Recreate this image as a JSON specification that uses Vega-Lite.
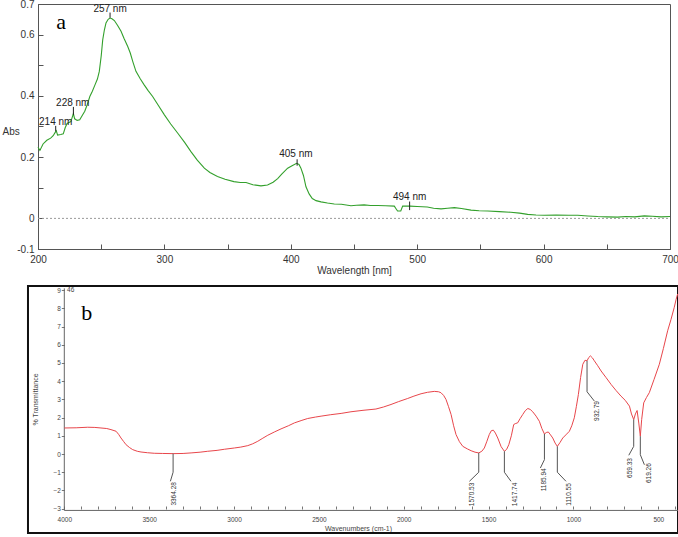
{
  "$schema": "https://vega.github.io/schema/vega-lite/v6.json",
  "padding": {"left": 1, "top": -2, "right": 0, "bottom": 0},
  "background": "white",
  "spacing": 9,
  "config": {"font": "Liberation Sans", "axis": {"grid": false}},
  "datasets": {
    "uv": [
      {"x":200,"y":0.232},{"x":201.5,"y":0.222},{"x":204,"y":0.243},{"x":207,"y":0.255},{"x":210,"y":0.262},{"x":212,"y":0.27},{"x":213.5,"y":0.28},{"x":214.5,"y":0.286},{"x":215.5,"y":0.272},{"x":218,"y":0.274},{"x":220,"y":0.276},{"x":221.5,"y":0.296},{"x":223,"y":0.31},{"x":226,"y":0.316},{"x":228,"y":0.342},{"x":229,"y":0.325},{"x":231,"y":0.32},{"x":233,"y":0.322},{"x":235,"y":0.336},{"x":237,"y":0.35},{"x":239,"y":0.372},{"x":241,"y":0.398},{"x":243,"y":0.415},{"x":245,"y":0.435},{"x":247,"y":0.455},{"x":248.5,"y":0.48},{"x":250,"y":0.53},{"x":251.2,"y":0.583},{"x":252.5,"y":0.615},{"x":253.8,"y":0.638},{"x":255.5,"y":0.65},{"x":257,"y":0.654},{"x":258.5,"y":0.652},{"x":260.4,"y":0.646},{"x":263,"y":0.63},{"x":265.7,"y":0.611},{"x":268,"y":0.588},{"x":271,"y":0.561},{"x":273,"y":0.54},{"x":275,"y":0.512},{"x":277.5,"y":0.48},{"x":281,"y":0.455},{"x":284,"y":0.436},{"x":287,"y":0.418},{"x":290.7,"y":0.398},{"x":295,"y":0.37},{"x":300,"y":0.338},{"x":305,"y":0.308},{"x":310.6,"y":0.278},{"x":316,"y":0.248},{"x":321,"y":0.218},{"x":326,"y":0.19},{"x":331.6,"y":0.164},{"x":336,"y":0.15},{"x":342,"y":0.137},{"x":348,"y":0.128},{"x":355,"y":0.12},{"x":360,"y":0.117},{"x":364.6,"y":0.117},{"x":370,"y":0.11},{"x":376.4,"y":0.106},{"x":381.6,"y":0.109},{"x":386,"y":0.118},{"x":389.6,"y":0.13},{"x":393,"y":0.145},{"x":397.5,"y":0.164},{"x":401,"y":0.172},{"x":404.6,"y":0.18},{"x":406.5,"y":0.176},{"x":408,"y":0.164},{"x":410,"y":0.14},{"x":412,"y":0.103},{"x":414.5,"y":0.08},{"x":417,"y":0.065},{"x":420,"y":0.058},{"x":423.9,"y":0.054},{"x":429,"y":0.05},{"x":434.4,"y":0.047},{"x":440,"y":0.046},{"x":447.6,"y":0.041},{"x":452,"y":0.043},{"x":458,"y":0.044},{"x":463,"y":0.042},{"x":468.8,"y":0.042},{"x":475,"y":0.041},{"x":481.9,"y":0.04},{"x":483.5,"y":0.03},{"x":484.5,"y":0.024},{"x":487,"y":0.024},{"x":488.5,"y":0.04},{"x":494.3,"y":0.04},{"x":500,"y":0.039},{"x":508,"y":0.037},{"x":513,"y":0.033},{"x":518.9,"y":0.031},{"x":524,"y":0.033},{"x":529.4,"y":0.035},{"x":535,"y":0.032},{"x":542.6,"y":0.027},{"x":549,"y":0.025},{"x":555.8,"y":0.024},{"x":565,"y":0.022},{"x":574,"y":0.02},{"x":581,"y":0.017},{"x":587.4,"y":0.013},{"x":594,"y":0.011},{"x":600.6,"y":0.01},{"x":610,"y":0.011},{"x":620,"y":0.01},{"x":627,"y":0.01},{"x":635,"y":0.008},{"x":642.8,"y":0.006},{"x":650,"y":0.005},{"x":658.6,"y":0.004},{"x":665,"y":0.006},{"x":672,"y":0.005},{"x":679.7,"y":0.008},{"x":686,"y":0.007},{"x":693,"y":0.005},{"x":700,"y":0.006}
    ],
    "uvTick": [
      {"x":214,"y":0.302,"y2":0.284},{"x":228,"y":0.364,"y2":0.338},{"x":257,"y":0.672,"y2":0.655},{"x":405,"y":0.193,"y2":0.172},{"x":494,"y":0.055,"y2":0.027}
    ],
    "uvText": [
      {"x":214,"y":0.315,"label":"214 nm"},{"x":227.5,"y":0.378,"label":"228 nm"},{"x":257,"y":0.684,"label":"257 nm"},{"x":404,"y":0.211,"label":"405 nm"},{"x":494,"y":0.071,"label":"494 nm"}
    ],
    "ir": [
      {"x":4000,"y":1.43},{"x":3930,"y":1.44},{"x":3862,"y":1.47},{"x":3820,"y":1.46},{"x":3784,"y":1.43},{"x":3750,"y":1.4},{"x":3725,"y":1.34},{"x":3695,"y":1.25},{"x":3680,"y":1.08},{"x":3666,"y":0.88},{"x":3650,"y":0.68},{"x":3636,"y":0.51},{"x":3615,"y":0.35},{"x":3597,"y":0.24},{"x":3570,"y":0.15},{"x":3548,"y":0.11},{"x":3510,"y":0.07},{"x":3470,"y":0.04},{"x":3420,"y":0.03},{"x":3359,"y":0.02},{"x":3300,"y":0.03},{"x":3253,"y":0.06},{"x":3200,"y":0.1},{"x":3155,"y":0.15},{"x":3100,"y":0.2},{"x":3057,"y":0.26},{"x":2998,"y":0.33},{"x":2960,"y":0.38},{"x":2919,"y":0.46},{"x":2890,"y":0.56},{"x":2860,"y":0.7},{"x":2830,"y":0.87},{"x":2801,"y":1.03},{"x":2760,"y":1.22},{"x":2723,"y":1.38},{"x":2680,"y":1.55},{"x":2644,"y":1.71},{"x":2600,"y":1.85},{"x":2566,"y":1.95},{"x":2520,"y":2.03},{"x":2487,"y":2.08},{"x":2430,"y":2.16},{"x":2369,"y":2.23},{"x":2311,"y":2.32},{"x":2240,"y":2.4},{"x":2164,"y":2.47},{"x":2120,"y":2.58},{"x":2075,"y":2.72},{"x":2030,"y":2.88},{"x":1977,"y":3.05},{"x":1940,"y":3.18},{"x":1898,"y":3.31},{"x":1860,"y":3.39},{"x":1820,"y":3.44},{"x":1795,"y":3.42},{"x":1781,"y":3.37},{"x":1765,"y":3.22},{"x":1751,"y":3.0},{"x":1736,"y":2.6},{"x":1721,"y":2.17},{"x":1706,"y":1.55},{"x":1692,"y":1.07},{"x":1672,"y":0.68},{"x":1652,"y":0.42},{"x":1625,"y":0.28},{"x":1603,"y":0.18},{"x":1580,"y":0.1},{"x":1558,"y":0.06},{"x":1540,"y":0.15},{"x":1525,"y":0.33},{"x":1510,"y":0.7},{"x":1496,"y":1.07},{"x":1484,"y":1.28},{"x":1472,"y":1.31},{"x":1460,"y":1.15},{"x":1446,"y":0.88},{"x":1426,"y":0.4},{"x":1407,"y":0.15},{"x":1394,"y":0.25},{"x":1381,"y":0.51},{"x":1366,"y":1.0},{"x":1352,"y":1.62},{"x":1340,"y":1.68},{"x":1329,"y":1.71},{"x":1314,"y":1.95},{"x":1299,"y":2.17},{"x":1284,"y":2.38},{"x":1269,"y":2.5},{"x":1255,"y":2.45},{"x":1240,"y":2.32},{"x":1220,"y":2.08},{"x":1201,"y":1.8},{"x":1186,"y":1.4},{"x":1171,"y":1.1},{"x":1160,"y":1.18},{"x":1148,"y":1.21},{"x":1135,"y":1.05},{"x":1122,"y":0.88},{"x":1108,"y":0.6},{"x":1095,"y":0.42},{"x":1080,"y":0.62},{"x":1063,"y":0.88},{"x":1045,"y":1.05},{"x":1024,"y":1.25},{"x":1010,"y":1.55},{"x":995,"y":1.99},{"x":983,"y":2.6},{"x":971,"y":3.27},{"x":958,"y":4.2},{"x":945,"y":4.93},{"x":932,"y":5.15},{"x":920,"y":5.12},{"x":910,"y":5.3},{"x":900,"y":5.39},{"x":888,"y":5.28},{"x":877,"y":5.12},{"x":857,"y":4.85},{"x":837,"y":4.56},{"x":808,"y":4.2},{"x":778,"y":3.82},{"x":750,"y":3.5},{"x":720,"y":3.18},{"x":695,"y":2.95},{"x":670,"y":2.63},{"x":658,"y":2.2},{"x":645,"y":1.89},{"x":635,"y":2.2},{"x":625,"y":2.39},{"x":615,"y":1.7},{"x":606,"y":0.98},{"x":598,"y":1.9},{"x":586,"y":2.81},{"x":570,"y":3.1},{"x":553,"y":3.37},{"x":525,"y":4.1},{"x":494,"y":4.93},{"x":470,"y":5.8},{"x":445,"y":6.77},{"x":425,"y":7.4},{"x":406,"y":8.06},{"x":395,"y":8.5},{"x":386,"y":8.79}
    ],
    "irLead": [
      {"x":3359,"x2":3359,"y":0.02,"y2":-1.0},{"x":3359,"x2":3375,"y":-1.0,"y2":-1.5},
      {"x":1558,"x2":1558,"y":0.06,"y2":-1.0},{"x":1558,"x2":1613,"y":-1.0,"y2":-1.5},
      {"x":1407,"x2":1407,"y":0.15,"y2":-1.0},{"x":1407,"x2":1368,"y":-1.0,"y2":-1.5},
      {"x":1171,"x2":1171,"y":1.1,"y2":-0.31},{"x":1171,"x2":1195,"y":-0.31,"y2":-0.77},
      {"x":1095,"x2":1095,"y":0.42,"y2":-1.0},{"x":1095,"x2":1044,"y":-1.0,"y2":-1.5},
      {"x":920,"x2":920,"y":5.12,"y2":3.42},{"x":920,"x2":877,"y":3.42,"y2":2.91},
      {"x":645,"x2":645,"y":1.89,"y2":0.42},{"x":645,"x2":674,"y":0.42,"y2":-0.07},
      {"x":606,"x2":606,"y":0.98,"y2":-0.04},{"x":606,"x2":582,"y":-0.04,"y2":-0.59}
    ],
    "irText": [
      {"x":3354,"y":-2.19,"label":"3364.28"},{"x":1595,"y":-2.22,"label":"1570.53"},{"x":1342,"y":-2.22,"label":"1417.74"},{"x":1175,"y":-1.42,"label":"1185.94"},{"x":1024,"y":-2.22,"label":"1110.55"},{"x":861,"y":2.36,"label":"932.79"},{"x":664,"y":-0.77,"label":"659.33"},{"x":553,"y":-1.05,"label":"619.26"}
    ]
  },
  "vconcat": [
    {
      "width": 632,
      "height": 245,
      "view": {"stroke": "#555", "strokeWidth": 1},
      "encoding": {
        "x": {"field": "x", "type": "quantitative",
          "scale": {"domain": [200, 700], "nice": false, "zero": false},
          "axis": {"title": "Wavelength [nm]", "values": [200,250,300,350,400,450,500,550,600,650,700],
            "labelExpr": "datum.value % 100 == 0 ? datum.label : ''",
            "tickSize": -5, "labelPadding": 10, "labelFlush": false, "labelOverlap": false,
            "domainColor": "#555", "tickColor": "#555", "labelColor": "#333", "labelFontSize": 10,
            "titleFontSize": 10, "titleFontWeight": "normal", "titleColor": "#333", "titlePadding": 1}},
        "y": {"field": "y", "type": "quantitative",
          "scale": {"domain": [-0.1, 0.7], "nice": false, "zero": false},
          "axis": {"title": "Abs", "values": [-0.1,0,0.1,0.2,0.3,0.4,0.5,0.6,0.7],
            "labelExpr": "datum.value == 0.7 ? '0.7' : datum.value == 0.6 ? '0.6' : datum.value == 0.4 ? '0.4' : datum.value == 0.2 ? '0.2' : datum.value == 0 ? '0' : datum.value == -0.1 ? '-0.1' : ''",
            "tickSize": -5, "labelPadding": 9, "labelFlush": false, "labelOverlap": false,
            "domainColor": "#555", "tickColor": "#555", "labelColor": "#333", "labelFontSize": 10,
            "titleFontSize": 10, "titleFontWeight": "normal", "titleColor": "#333",
            "titleAngle": 0, "titleX": -36, "titleY": 127, "titleAlign": "left", "titleBaseline": "middle"}}
      },
      "layer": [
        {"data": {"values": [{"x": 200, "x2": 700, "y": 0}]},
         "mark": {"type": "rule", "color": "#999", "strokeDash": [2, 2], "strokeWidth": 1},
         "encoding": {"x2": {"field": "x2"}}},
        {"data": {"name": "uv"},
         "mark": {"type": "line", "color": "#33a02c", "strokeWidth": 1.1, "interpolate": "linear"}},
        {"data": {"name": "uvTick"},
         "mark": {"type": "rule", "color": "#222", "strokeWidth": 1},
         "encoding": {"y2": {"field": "y2"}}},
        {"data": {"name": "uvText"},
         "mark": {"type": "text", "fontSize": 10, "color": "#222", "baseline": "middle", "align": "center"},
         "encoding": {"text": {"field": "label"}}},
        {"data": {"values": [{"x": 218.2, "y": 0.64, "label": "a"}]},
         "mark": {"type": "text", "font": "Liberation Serif", "fontSize": 22, "color": "#000", "baseline": "middle", "align": "center"},
         "encoding": {"text": {"field": "label"}}}
      ]
    },
    {
      "width": 640,
      "height": 247,
      "view": {"stroke": null},
      "encoding": {
        "x": {"field": "x", "type": "quantitative",
          "scale": {"domain": [384, 4155], "reverse": true, "nice": false, "zero": false},
          "axis": {"title": "Wavenumbers (cm-1)",
            "values": [4000,3900,3800,3700,3600,3500,3400,3300,3200,3100,3000,2900,2800,2700,2600,2500,2400,2300,2200,2100,2000,1900,1800,1700,1600,1500,1400,1300,1200,1100,1000,900,800,700,600,500,400],
            "labelExpr": "datum.value % 500 == 0 ? datum.label : ''",
            "format": "d",
            "offset": -24, "domain": false, "tickSize": -3, "labelPadding": 10.5, "labelFlush": false, "labelOverlap": false,
            "tickColor": "#777", "labelColor": "#444", "labelFontSize": 6.5,
            "titleFontSize": 7, "titleFontWeight": "normal", "titleColor": "#444", "titlePadding": 1}},
        "y": {"field": "y", "type": "quantitative",
          "scale": {"domain": [-4.34, 9.23], "nice": false, "zero": false},
          "axis": {"title": "% Transmittance", "values": [-3,-2,-1,0,1,2,3,4,5,6,7,8,9],
            "offset": -26.3, "domain": false, "tickSize": 3, "labelPadding": 1, "labelFlush": false, "labelOverlap": false,
            "tickColor": "#777", "labelColor": "#444", "labelFontSize": 6.5,
            "titleFontSize": 7, "titleFontWeight": "normal", "titleColor": "#444", "titlePadding": 14, "titleY": 113}}
      },
      "layer": [
        {"data": {"values": [{"x": 4214, "x2": 384, "y": -4.34, "y2": 9.23}]},
         "mark": {"type": "rect", "filled": false, "stroke": "#111", "strokeWidth": 2},
         "encoding": {"x2": {"field": "x2"}, "y2": {"field": "y2"}}},
        {"data": {"values": [{"x": 4000, "x2": 4000, "y": -3.1, "y2": 9.1}, {"x": 4000, "x2": 384, "y": -3.1, "y2": -3.1}]},
         "mark": {"type": "rule", "color": "#666", "strokeWidth": 1},
         "encoding": {"x2": {"field": "x2"}, "y2": {"field": "y2"}}},
        {"data": {"name": "ir"},
         "mark": {"type": "line", "color": "#e8464b", "strokeWidth": 1}},
        {"data": {"name": "irLead"},
         "mark": {"type": "rule", "color": "#555", "strokeWidth": 1},
         "encoding": {"x2": {"field": "x2"}, "y2": {"field": "y2"}}},
        {"data": {"name": "irText"},
         "mark": {"type": "text", "fontSize": 6.5, "color": "#333", "angle": 270, "baseline": "middle", "align": "center"},
         "encoding": {"text": {"field": "label"}}},
        {"data": {"values": [{"x": 3984, "y": 9, "label": "46"}]},
         "mark": {"type": "text", "fontSize": 6.5, "color": "#444", "baseline": "middle", "align": "left"},
         "encoding": {"text": {"field": "label"}}},
        {"data": {"values": [{"x": 3868, "y": 7.74, "label": "b"}]},
         "mark": {"type": "text", "font": "Liberation Serif", "fontSize": 22, "color": "#000", "baseline": "middle", "align": "center"},
         "encoding": {"text": {"field": "label"}}}
      ]
    }
  ]
}
